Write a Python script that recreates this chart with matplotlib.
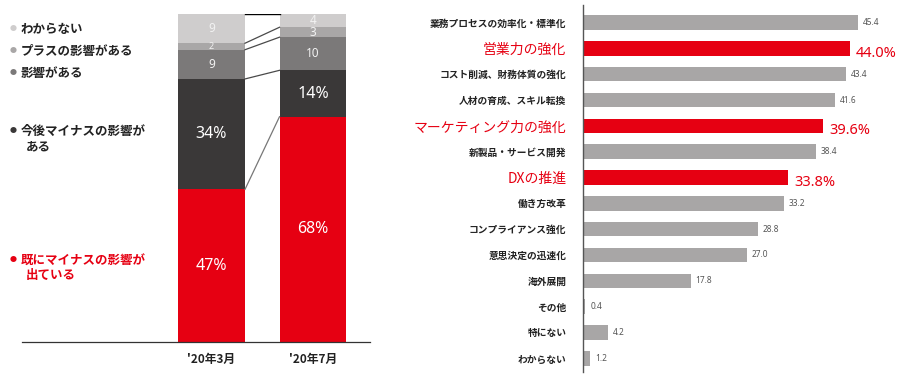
import matplotlib
matplotlib.use("Agg")
import matplotlib.pyplot as plt
import numpy as np

plt.rcParams['font.family'] = ['Noto Sans CJK JP', 'DejaVu Sans']

# ---------------- data ----------------
periods = ["'20年3月", "'20年7月"]
stack_names = ["既にマイナスの影響が\n出ている", "今後マイナスの影響が\nある", "影響がある",
               "プラスの影響がある", "わからない"]
march_vals = [47, 34, 9, 2, 9]
july_vals = [68, 14, 10, 3, 4]
seg_labels_march = ["47%", "34%", "9", "2", "9"]
seg_labels_july = ["68%", "14%", "10", "3", "4"]
stack_colors = ["#e60012", "#3a3838", "#7b7979", "#a9a7a7", "#cfcdcd"]

categories = ["業務プロセスの効率化・標準化", "営業力の強化", "コスト削減、財務体質の強化",
              "人材の育成、スキル転換", "マーケティング力の強化", "新製品・サービス開発",
              "DXの推進", "働き方改革", "コンプライアンス強化", "意思決定の迅速化",
              "海外展開", "その他", "特にない", "わからない"]
values = [45.4, 44.0, 43.4, 41.6, 39.6, 38.4, 33.8, 33.2, 28.8, 27.0, 17.8, 0.4, 4.2, 1.2]
highlight = [False, True, False, False, True, False, True,
             False, False, False, False, False, False, False]

RED = "#e60012"
GRAY = "#a8a6a6"

W, H = 907, 378
fig = plt.figure(figsize=(W / 100, H / 100), dpi=100)

def fx(x):
    return x / W

def fy(y):
    return 1 - y / H

# ---------------- left: stacked bars ----------------
ax1 = fig.add_axes([fx(22), fy(342), fx(370 - 22), (342 - 14) / H])
bw = 0.66
series = [march_vals, july_vals]
seglabs = [seg_labels_march, seg_labels_july]
tops = []
for i, vals in enumerate(series):
    tot = sum(vals)
    h = [v / tot * 100 for v in vals]
    bottom = 0
    t = []
    for j, (hv, col) in enumerate(zip(h, stack_colors)):
        ax1.bar(i, hv, bottom=bottom, width=bw, color=col, linewidth=0)
        big = j < 2
        ax1.text(i, bottom + hv / 2, seglabs[i][j], ha="center", va="center",
                 color="white" if big else "#f2f2f2",
                 fontsize=11.5 if big else (8.5 if hv > 3 else 6.5),
                 family=['Noto Sans', 'DejaVu Sans'])
        bottom += hv
        t.append(bottom)
    tops.append(t)

# connectors
for k in range(4):
    ax1.plot([bw / 2, 1 - bw / 2], [tops[0][k], tops[1][k]],
             color="#4a4a4a" if k > 0 else "#777777", lw=0.9)
ax1.plot([bw / 2, 1 - bw / 2], [100, 100], color="black", lw=1.0)

ax1.set_xlim(-189.5 / 101.5, (348 - 189.5) / 101.5)
ax1.set_ylim(0, 100)
for s in ["top", "right", "left"]:
    ax1.spines[s].set_visible(False)
ax1.spines["bottom"].set_color("#333333")
ax1.spines["bottom"].set_linewidth(0.9)
ax1.set_yticks([])
ax1.set_xticks([0, 1])
ax1.set_xticklabels(periods, fontsize=8.5, color="#222222", fontweight="bold")
ax1.tick_params(axis="x", length=0, pad=8)

# legend texts
leg_y = [268, 139, 73, 51, 29]
for name, col, y in zip(stack_names, stack_colors, leg_y):
    lines = name.split("\n")
    tcol = RED if col == RED else "#222222"
    fig.text(fx(13), fy(y - (8 if len(lines) > 1 else 0)), "●", color=col, fontsize=5,
             ha="center", va="center")
    fig.text(fx(21), fy(y - (8 if len(lines) > 1 else 0)), lines[0], color=tcol,
             fontsize=9, fontweight="bold", ha="left", va="center")
    if len(lines) > 1:
        fig.text(fx(26), fy(y + 8), lines[1], color=tcol, fontsize=9,
                 fontweight="bold", ha="left", va="center")

# ---------------- right: horizontal bars ----------------
sp = 25.8
n = len(categories)
ax2 = fig.add_axes([fx(583), fy(372), fx(900 - 583), (372 - 5) / H])
ypos = np.arange(n)
cols = [RED if hl else GRAY for hl in highlight]
ax2.barh(ypos, values, height=14.5 / sp, color=cols, linewidth=0)
ax2.set_ylim(n - 1 + (372 - 358.3) / sp, -(22.5 - 5) / sp)
ax2.set_xlim(0, 317 / 6.06)
for s in ["top", "right", "bottom"]:
    ax2.spines[s].set_visible(False)
ax2.spines["left"].set_color("#555555")
ax2.spines["left"].set_linewidth(1.0)
ax2.set_xticks([])
ax2.set_yticks(ypos)
ax2.set_yticklabels(categories)
ax2.tick_params(axis="y", length=0, pad=12)
for lab, hl in zip(ax2.get_yticklabels(), highlight):
    if hl:
        lab.set_color(RED)
        lab.set_fontsize(10)
    else:
        lab.set_color("#222222")
        lab.set_fontsize(7)
        lab.set_fontweight("bold")

for y, v, hl in zip(ypos, values, highlight):
    if hl:
        ax2.text(v + 1.0, y + 0.2, f"{v:.1f}%", color=RED, fontsize=10.5,
                 ha="left", va="center", family=['Noto Sans', 'DejaVu Sans'])
    else:
        ax2.text(v + 0.8, y, f"{v:.1f}", color="#555555", fontsize=6,
                 ha="left", va="center", family=['Noto Sans', 'DejaVu Sans'])

fig.savefig("out.png", dpi=100)
